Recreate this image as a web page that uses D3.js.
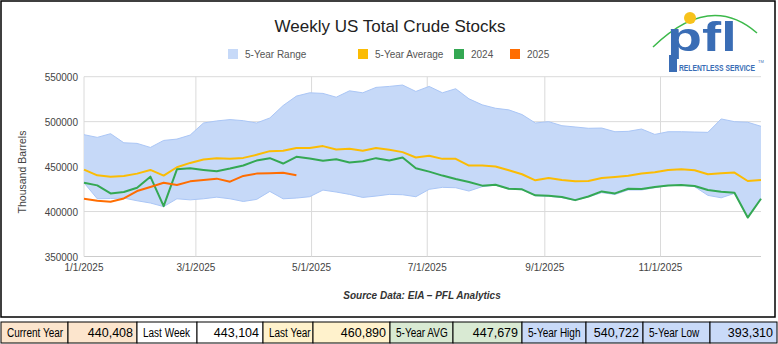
<!DOCTYPE html>
<html>
<head>
<meta charset="utf-8">
<script src="https://cdn.jsdelivr.net/npm/d3@7"></script>
<style>
body { margin: 0; background: #fff; }
svg { display: block; font-family: "Liberation Sans", Arial, sans-serif; }
</style>
</head>
<body>
<div id="vis"></div>
<script>
const WIDTH = 778;
const HEIGHT = 344;

// weekly points, first one on 1/1/2025
const firstWeek = new Date(2025, 0, 1);

// 5-year range (high / low), 5-year average, last year, this year
const fiveYearHigh = [485500, 482500, 486600, 476500, 475800, 471300, 479100, 480600, 485100, 498500,
	500800, 502300, 501100, 498500, 504100, 517900, 528400, 532100, 531400, 527200,
	534300, 532100, 538100, 539200, 540722, 533600, 539200, 532100, 536600, 525400,
	518700, 514900, 513100, 507900, 498500, 500000, 495500, 494100, 492600, 492900,
	488800, 489200, 491800, 485800, 488800, 488800, 488400, 488100, 503000, 500000,
	499300, 494800];
const fiveYearLow = [432000, 414200, 414500, 415000, 412000, 409500, 405500, 414200, 413000, 414200,
	416000, 414200, 411200, 413500, 422400, 414200, 415000, 416500, 423900, 421700,
	419100, 415700, 417200, 419100, 418700, 416500, 424700, 426900, 426500, 422800,
	427700, 429300, 425000, 424200, 417500, 417000, 415500, 412300, 416300, 421000,
	419000, 424000, 424000, 426500, 428800, 429100, 427700, 418000, 415300, 420200,
	393310, 414200];
const fiveYearAvg = [446700, 440300, 438800, 439600, 442200, 446300, 440000, 449300, 454100, 457900,
	459400, 458600, 459700, 463100, 467200, 467600, 470600, 470600, 472800, 469000,
	469800, 467600, 470600, 468700, 466100, 460100, 462000, 458600, 458600, 451200,
	451200, 450200, 445900, 441500, 434700, 437400, 435100, 433600, 434000, 437400,
	438500, 439800, 442200, 443700, 446300, 447100, 445900, 441500, 442600, 443300,
	434000, 435100];
const stocks2024 = [432100, 429100, 420200, 421700, 426500, 438800, 406000, 447000, 448100, 446300,
	444800, 447800, 451200, 456700, 459400, 453400, 460890, 459000, 456400, 458200,
	454500, 456000, 459400, 456700, 460100, 448100, 444400, 440000, 436200, 432900,
	428800, 429900, 425400, 424700, 418000, 417600, 416100, 412700, 416800, 422400,
	420200, 425400, 425000, 427300, 429100, 429500, 428400, 423900, 422000, 420900,
	393310, 414200];
const stocks2025 = [414200, 412000, 410900, 414600, 422800, 427300, 432100, 429500, 433600, 435100,
	436600, 433200, 439600, 442200, 442600, 443104, 440408];

const xTickDates = ["2025-01-01", "2025-03-01", "2025-05-01", "2025-07-01", "2025-09-01", "2025-11-01"];
const yTicks = [350000, 400000, 450000, 500000, 550000];

const legendNames = ["5-Year Range", "5-Year Average", "2024", "2025"];
const legendColours = ["#c6d9f8", "#fbbc04", "#34a853", "#ff6d01"];

const statLabels = ["Current Year", "Last Week", "Last Year", "5-Year AVG", "5-Year High", "5-Year Low"];
const statValues = ["440,408", "443,104", "460,890", "447,679", "540,722", "393,310"];
const statColours = ["#fce5cd", "#ffffff", "#fff2cc", "#d9ead3", "#c9daf8", "#c9daf8"];

const dates = fiveYearHigh.map((d, i) => d3.timeDay.offset(firstWeek, 7 * i));
const parseDay = d3.timeParse("%Y-%m-%d");
const tickFormat = d3.timeFormat("%-m/%-d/%Y");

const svg = d3.select("#vis").append("svg")
	.attr("width", WIDTH)
	.attr("height", HEIGHT);

// chart frame
svg.append("rect")
	.attr("x", 1).attr("y", 1)
	.attr("width", 774).attr("height", 316)
	.attr("fill", "#fff")
	.attr("stroke", "#000")
	.attr("stroke-width", 1.5);

const x = d3.scaleTime()
	.domain([dates[0], dates[dates.length - 1]])
	.range([84, 761]);

const y = d3.scaleLinear()
	.domain([350000, 550000])
	.range([256.5, 76.7]);

// gridlines
svg.append("g").selectAll("line")
	.data(yTicks)
	.join("line")
	.attr("x1", 84).attr("x2", 761)
	.attr("y1", d => y(d)).attr("y2", d => y(d))
	.attr("stroke", d => d === 350000 ? "#ccc" : "#dadada")
	.attr("stroke-width", 1);

svg.append("g").selectAll("line")
	.data(xTickDates.map(parseDay))
	.join("line")
	.attr("x1", d => x(d)).attr("x2", d => x(d))
	.attr("y1", y(550000)).attr("y2", y(350000))
	.attr("stroke", "#dadada")
	.attr("stroke-width", 1);

// 5-year range band
const band = d3.area()
	.x((d, i) => x(dates[i]))
	.y0((d, i) => y(fiveYearLow[i]))
	.y1(d => y(d));

svg.append("path")
	.datum(fiveYearHigh)
	.attr("d", band)
	.attr("fill", "#c6d9f8");

const line = d3.line()
	.x((d, i) => x(dates[i]))
	.y(d => y(d));

[fiveYearHigh, fiveYearLow].forEach(s => {
	svg.append("path")
		.datum(s)
		.attr("d", line)
		.attr("fill", "none")
		.attr("stroke", "#aac6f6")
		.attr("stroke-width", 1);
});

[[fiveYearAvg, "#fbbc04"], [stocks2024, "#34a853"], [stocks2025, "#ff6d01"]].forEach(([s, c]) => {
	svg.append("path")
		.datum(s)
		.attr("d", line)
		.attr("fill", "none")
		.attr("stroke", c)
		.attr("stroke-width", 2)
		.attr("stroke-linejoin", "round");
});

// axes labels
svg.append("g").selectAll("text")
	.data(yTicks)
	.join("text")
	.attr("x", 78)
	.attr("y", d => y(d) + 4)
	.attr("text-anchor", "end")
	.attr("font-size", 10)
	.attr("fill", "#444")
	.text(d => d);

svg.append("g").selectAll("text")
	.data(xTickDates.map(parseDay))
	.join("text")
	.attr("x", d => x(d))
	.attr("y", 271)
	.attr("text-anchor", "middle")
	.attr("font-size", 10)
	.attr("fill", "#444")
	.text(d => tickFormat(d));

svg.append("text")
	.attr("transform", "translate(26,172) rotate(-90)")
	.attr("text-anchor", "middle")
	.attr("font-size", 10.5)
	.attr("fill", "#444")
	.text("Thousand Barrels");

// title
svg.append("text")
	.attr("x", 390).attr("y", 32)
	.attr("text-anchor", "middle")
	.attr("font-size", 17)
	.attr("fill", "#222")
	.text("Weekly US Total Crude Stocks");

// legend
const legendX = [228, 358, 454, 510];
const legend = svg.append("g").selectAll("g")
	.data(legendNames)
	.join("g")
	.attr("transform", (d, i) => `translate(${legendX[i]},49)`);
legend.append("rect")
	.attr("width", 10).attr("height", 10)
	.attr("fill", (d, i) => legendColours[i]);
legend.append("text")
	.attr("x", 17).attr("y", 9)
	.attr("font-size", 10)
	.attr("fill", "#555")
	.text(d => d);

// source note
svg.append("text")
	.attr("x", 422).attr("y", 299)
	.attr("text-anchor", "middle")
	.attr("font-size", 10)
	.attr("font-style", "italic")
	.attr("font-weight", "bold")
	.attr("fill", "#333")
	.text("Source Data: EIA \u2013 PFL Analytics");

// pfl logo
const logo = svg.append("g");
logo.append("path")
	.attr("d", "M653,47 Q710,-8 757,33")
	.attr("fill", "none")
	.attr("stroke", "#3cb94a")
	.attr("stroke-width", 1.5);
logo.append("text")
	.attr("x", 667).attr("y", 51)
	.attr("font-size", 41)
	.attr("font-weight", "bold")
	.attr("fill", "#3a6db5")
	.attr("textLength", 70)
	.attr("lengthAdjust", "spacingAndGlyphs")
	.text("pfl");
logo.append("rect")
	.attr("x", 669).attr("y", 55)
	.attr("width", 8).attr("height", 17)
	.attr("fill", "#3a6db5");
logo.append("circle")
	.attr("cx", 690).attr("cy", 18).attr("r", 6)
	.attr("fill", "#f7c21b");
logo.append("text")
	.attr("x", 679).attr("y", 71)
	.attr("font-size", 9)
	.attr("font-weight", "bold")
	.attr("fill", "#3a6db5")
	.attr("textLength", 76)
	.attr("lengthAdjust", "spacingAndGlyphs")
	.text("RELENTLESS SERVICE");
logo.append("text")
	.attr("x", 758).attr("y", 63)
	.attr("font-size", 4)
	.attr("fill", "#3a6db5")
	.text("TM");

// stats table along the bottom
const cellEdges = [1, 68, 137, 197, 263, 313, 390, 453, 522, 586, 643, 710, 777];
const cells = [];
statLabels.forEach((l, i) => {
	cells.push({ text: l, fill: statColours[i], label: true });
	cells.push({ text: statValues[i], fill: statColours[i], label: false });
});

const cell = svg.append("g").selectAll("g")
	.data(cells)
	.join("g");
cell.append("rect")
	.attr("x", (d, i) => cellEdges[i])
	.attr("y", 322)
	.attr("width", (d, i) => cellEdges[i + 1] - cellEdges[i])
	.attr("height", 21)
	.attr("fill", d => d.fill)
	.attr("stroke", "#000")
	.attr("stroke-width", 1);
cell.append("text")
	.attr("x", (d, i) => d.label ? cellEdges[i] + 6 : cellEdges[i + 1] - 4)
	.attr("y", 337)
	.attr("text-anchor", d => d.label ? "start" : "end")
	.attr("font-size", 12.5)
	.attr("fill", "#000")
	.text(d => d.text)
	.each(function (d) {
		if (d.label) {
			const w = this.getComputedTextLength();
			d3.select(this)
				.attr("textLength", w * 0.8)
				.attr("lengthAdjust", "spacingAndGlyphs");
		}
	});
</script>
</body>
</html>
